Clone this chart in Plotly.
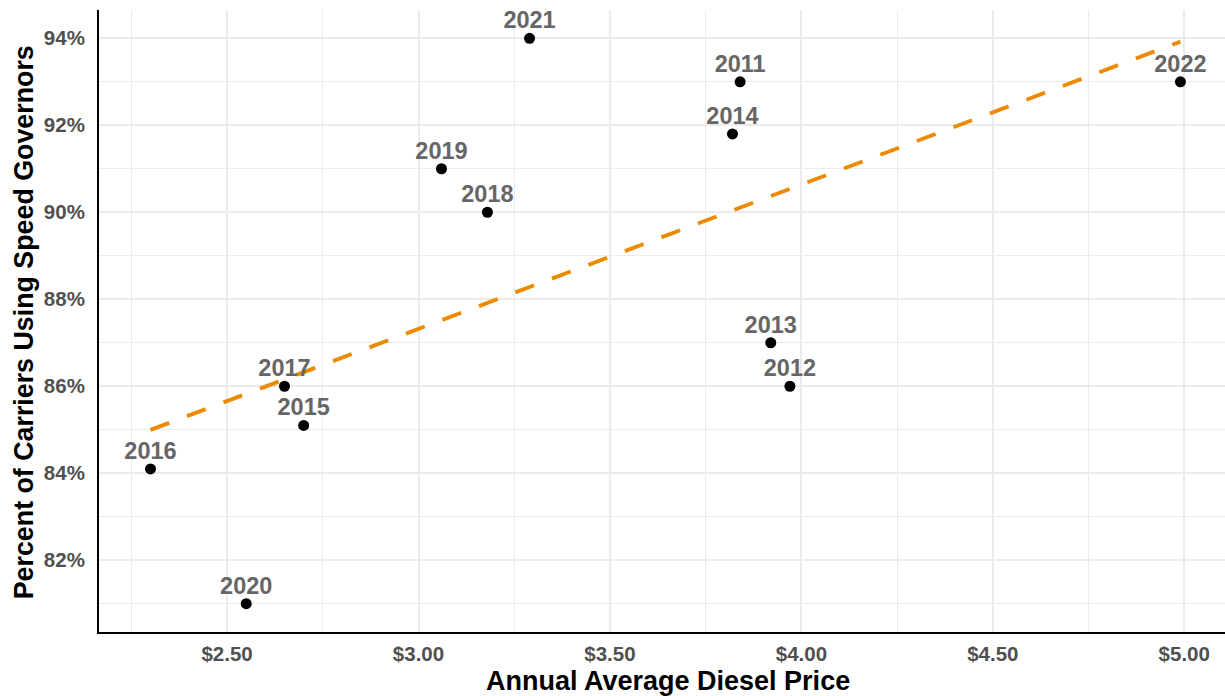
import numpy as np
import plotly.graph_objects as go

years = ["2011", "2012", "2013", "2014", "2015", "2016", "2017", "2018", "2019", "2020", "2021", "2022"]
diesel_price = [3.84, 3.97, 3.92, 3.82, 2.70, 2.30, 2.65, 3.18, 3.06, 2.55, 3.29, 4.99]
pct_governors = [93.0, 86.0, 87.0, 91.8, 85.1, 84.1, 86.0, 90.0, 91.0, 81.0, 94.0, 93.0]

x_tick_vals = [2.5, 3.0, 3.5, 4.0, 4.5, 5.0]
x_tick_text = ["$2.50", "$3.00", "$3.50", "$4.00", "$4.50", "$5.00"]
y_tick_vals = [82, 84, 86, 88, 90, 92, 94]
y_tick_text = ["82%", "84%", "86%", "88%", "90%", "92%", "94%"]

FONT = "Liberation Sans, Arial, sans-serif"

# linear fit (like geom_smooth(method="lm"))
slope, intercept = np.polyfit(diesel_price, pct_governors, 1)
fx = np.array([min(diesel_price), max(diesel_price)])
fy = slope * fx + intercept

fig = go.Figure()
fig.add_trace(go.Scatter(
    x=fx, y=fy, mode="lines",
    line=dict(color="#EC8A00", width=3.9, dash="20px,19px"),
    hoverinfo="skip", showlegend=False,
))
fig.add_trace(go.Scatter(
    x=diesel_price, y=pct_governors, mode="markers",
    marker=dict(color="black", size=11),
    showlegend=False,
))
fig.add_trace(go.Scatter(
    x=diesel_price, y=pct_governors, mode="markers+text",
    text=years, textposition="top center",
    textfont=dict(family=FONT, size=23.5, color="#666666", weight="bold"),
    marker=dict(size=5, color="rgba(0,0,0,0)"),
    hoverinfo="skip", showlegend=False,
))

grid_major = "#EBEBEB"
fig.update_layout(
    width=1225, height=696,
    margin=dict(l=99, r=0, t=10, b=64),
    plot_bgcolor="white", paper_bgcolor="white",
    font=dict(family=FONT),
    xaxis=dict(
        range=[2.1655, 5.1064], automargin=False,
        tickvals=x_tick_vals, ticktext=x_tick_text,
        showgrid=True, gridcolor=grid_major, gridwidth=2,
        minor=dict(tick0=2.25, dtick=0.5, showgrid=True, gridcolor=grid_major, gridwidth=1.4),
        showline=True, linecolor="black", linewidth=2, mirror=False,
        zeroline=False, ticks="",
        tickfont=dict(family=FONT, size=20.5, color="#505050", weight="bold"),
        ticklabelstandoff=2,
    ),
    yaxis=dict(
        range=[80.35, 94.65], automargin=False,
        tickvals=y_tick_vals, ticktext=y_tick_text,
        showgrid=True, gridcolor=grid_major, gridwidth=2,
        minor=dict(tick0=81, dtick=2, showgrid=True, gridcolor=grid_major, gridwidth=1.4),
        showline=True, linecolor="black", linewidth=2, mirror=False,
        zeroline=False, ticks="",
        tickfont=dict(family=FONT, size=20.5, color="#505050", weight="bold"),
        ticklabelstandoff=8,
    ),
    annotations=[
        dict(text="Annual Average Diesel Price", xref="paper", yref="paper",
             x=0.5053, y=-0.079, xanchor="center", yanchor="middle", showarrow=False,
             font=dict(family=FONT, size=27, color="black", weight="bold")),
        dict(text="Percent of Carriers Using Speed Governors", xref="paper", yref="paper",
             x=-0.0666, y=0.498, xanchor="center", yanchor="middle", showarrow=False,
             textangle=-90,
             font=dict(family=FONT, size=26.8, color="black", weight="bold")),
    ],
)

fig.write_html(
    "out.html",
    config={"displayModeBar": False},
    post_script="document.body.style.margin='0';document.body.style.overflow='hidden';",
)
